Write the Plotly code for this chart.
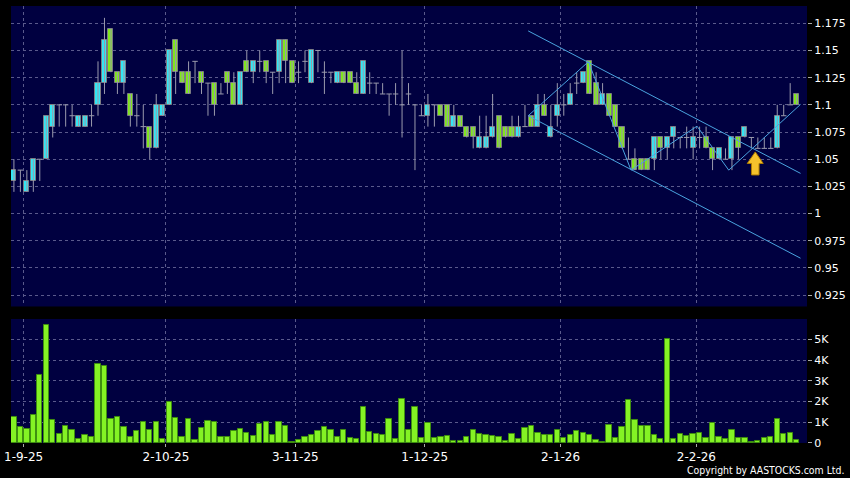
import plotly.graph_objects as go

# daily OHLC, one entry per trading day (28-8-25 .. end)
opens = [1.03, 1.04, 1.02, 1.03, 1.05, 1.05, 1.08, 1.10, 1.10, 1.09,
         1.08, 1.08, 1.09, 1.10, 1.12, 1.17, 1.13, 1.12, 1.11, 1.09,
         1.08, 1.08, 1.06, 1.09, 1.10, 1.16, 1.13, 1.13, 1.14, 1.13,
         1.12, 1.12, 1.11, 1.13, 1.12, 1.10, 1.14, 1.13, 1.14, 1.14,
         1.13, 1.13, 1.16, 1.14, 1.13, 1.14, 1.12, 1.15, 1.13, 1.13,
         1.12, 1.13, 1.13, 1.12, 1.11, 1.12, 1.12, 1.11, 1.11, 1.11,
         1.10, 1.11, 1.10, 1.09, 1.09, 1.10, 1.10, 1.10, 1.08, 1.09,
         1.08, 1.08, 1.06, 1.06, 1.07, 1.09, 1.08, 1.08, 1.07, 1.08,
         1.09, 1.08, 1.10, 1.07, 1.09, 1.10, 1.10, 1.12, 1.12, 1.14,
         1.12, 1.10, 1.11, 1.10, 1.08, 1.05, 1.05, 1.05, 1.05, 1.05,
         1.07, 1.06, 1.07, 1.07, 1.07, 1.06, 1.07, 1.07, 1.06, 1.05,
         1.05, 1.05, 1.07, 1.07, 1.07, 1.06, 1.06, 1.06, 1.06, 1.09,
         1.10, 1.11]
highs = [1.05, 1.04, 1.04, 1.05, 1.05, 1.09, 1.10, 1.10, 1.10, 1.10,
         1.09, 1.09, 1.10, 1.14, 1.18, 1.17, 1.13, 1.14, 1.11, 1.11,
         1.10, 1.08, 1.11, 1.10, 1.15, 1.16, 1.13, 1.14, 1.14, 1.13,
         1.12, 1.12, 1.12, 1.13, 1.13, 1.13, 1.15, 1.14, 1.15, 1.14,
         1.13, 1.16, 1.16, 1.14, 1.14, 1.15, 1.15, 1.15, 1.14, 1.13,
         1.13, 1.13, 1.13, 1.13, 1.14, 1.13, 1.12, 1.12, 1.11, 1.12,
         1.15, 1.12, 1.10, 1.10, 1.11, 1.10, 1.10, 1.10, 1.10, 1.09,
         1.08, 1.08, 1.09, 1.09, 1.11, 1.09, 1.08, 1.09, 1.09, 1.10,
         1.09, 1.11, 1.11, 1.10, 1.12, 1.11, 1.12, 1.13, 1.13, 1.14,
         1.13, 1.12, 1.11, 1.10, 1.08, 1.07, 1.06, 1.05, 1.05, 1.07,
         1.07, 1.07, 1.08, 1.07, 1.08, 1.08, 1.08, 1.08, 1.06, 1.06,
         1.06, 1.07, 1.07, 1.08, 1.07, 1.07, 1.07, 1.07, 1.10, 1.10,
         1.12, 1.11]
lows = [1.02, 1.02, 1.02, 1.02, 1.03, 1.05, 1.07, 1.08, 1.08, 1.08,
        1.08, 1.08, 1.08, 1.09, 1.11, 1.13, 1.11, 1.11, 1.08, 1.08,
        1.06, 1.05, 1.06, 1.09, 1.10, 1.11, 1.12, 1.11, 1.12, 1.11,
        1.09, 1.09, 1.11, 1.11, 1.10, 1.10, 1.13, 1.12, 1.13, 1.12,
        1.11, 1.12, 1.12, 1.12, 1.12, 1.13, 1.12, 1.13, 1.11, 1.12,
        1.12, 1.12, 1.12, 1.11, 1.11, 1.11, 1.11, 1.11, 1.09, 1.10,
        1.07, 1.10, 1.04, 1.09, 1.08, 1.08, 1.09, 1.08, 1.08, 1.08,
        1.07, 1.06, 1.06, 1.06, 1.07, 1.06, 1.07, 1.07, 1.07, 1.08,
        1.08, 1.08, 1.09, 1.07, 1.08, 1.09, 1.10, 1.11, 1.12, 1.11,
        1.10, 1.10, 1.09, 1.08, 1.06, 1.05, 1.04, 1.04, 1.04, 1.04,
        1.05, 1.05, 1.06, 1.06, 1.06, 1.05, 1.06, 1.06, 1.04, 1.05,
        1.05, 1.04, 1.05, 1.07, 1.06, 1.06, 1.06, 1.06, 1.06, 1.09,
        1.10, 1.10]
closes = [1.04, 1.04, 1.03, 1.05, 1.05, 1.09, 1.10, 1.10, 1.10, 1.09,
          1.09, 1.09, 1.09, 1.12, 1.16, 1.13, 1.12, 1.14, 1.09, 1.09,
          1.08, 1.06, 1.10, 1.10, 1.15, 1.13, 1.12, 1.11, 1.14, 1.12,
          1.12, 1.10, 1.11, 1.12, 1.10, 1.13, 1.13, 1.14, 1.14, 1.13,
          1.13, 1.16, 1.14, 1.12, 1.13, 1.14, 1.15, 1.15, 1.13, 1.13,
          1.13, 1.12, 1.12, 1.11, 1.14, 1.12, 1.12, 1.11, 1.11, 1.11,
          1.10, 1.11, 1.10, 1.09, 1.10, 1.10, 1.09, 1.08, 1.09, 1.08,
          1.07, 1.07, 1.07, 1.07, 1.08, 1.06, 1.07, 1.07, 1.08, 1.08,
          1.08, 1.10, 1.09, 1.08, 1.10, 1.10, 1.11, 1.12, 1.13, 1.11,
          1.10, 1.11, 1.09, 1.08, 1.06, 1.05, 1.04, 1.04, 1.04, 1.07,
          1.06, 1.07, 1.08, 1.07, 1.07, 1.07, 1.07, 1.06, 1.05, 1.06,
          1.05, 1.07, 1.06, 1.08, 1.07, 1.06, 1.06, 1.06, 1.09, 1.09,
          1.10, 1.10]
volumes = [1250, 770, 670, 1350, 3300, 5670, 1120, 450, 800, 640,
           210, 380, 300, 3810, 3690, 1150, 1270, 790, 300, 590,
           1030, 610, 1030, 190, 1990, 1200, 270, 1150, 160, 720,
           1070, 1010, 300, 300, 580, 690, 480, 340, 930, 990,
           400, 1030, 820, 30, 160, 270, 380, 590, 770, 640,
           300, 610, 240, 210, 1760, 510, 430, 370, 1150, 190,
           2130, 640, 1760, 240, 960, 220, 300, 320, 110, 100,
           290, 640, 450, 400, 320, 300, 110, 430, 180, 740,
           820, 500, 370, 370, 610, 240, 400, 560, 500, 370,
           130, 60, 870, 260, 790, 2070, 1120, 830, 820, 400,
           210, 5000, 190, 430, 320, 450, 500, 240, 960, 300,
           180, 610, 220, 260, 50, 80, 220, 300, 1170, 420,
           500, 140]

# first trading day of each month (index into the series) and its label
date_labels = ["1-9-25", "2-10-25", "3-11-25", "1-12-25", "2-1-26", "2-2-26"]
date_index = [2, 24, 44, 64, 85, 106]

price_ticks = [0.925, 0.95, 0.975, 1.0, 1.025, 1.05, 1.075, 1.1, 1.125, 1.15, 1.175]
price_labels = ["0.925", "0.95", "0.975", "1", "1.025", "1.05", "1.075", "1.1", "1.125", "1.15", "1.175"]
vol_ticks = [0, 1000, 2000, 3000, 4000, 5000]
vol_labels = ["0", "1K", "2K", "3K", "4K", "5K"]

# hand-drawn channel and zigzag (day index, price)
channel_top_x = [79.5, 121.6]
channel_top_y = [1.168, 1.037]
channel_low_x = [79.5, 121.6]
channel_low_y = [1.090, 0.959]
zigzag_x = [79.5, 88.8, 95.4, 105.6, 110.5, 121.6]
zigzag_y = [1.090, 1.1396, 1.040, 1.0804, 1.040, 1.1004]
arrow_at = (114.6, 1.0567)

BG = "#000000"
PANEL = "#000040"
GRID = "#5a5a8c"
UP = "#33e6f4"
DOWN = "#80e61e"
EDGE = "#7c7c84"
WICK = "#9a9aac"
TREND = "#4aa3df"
FONT = dict(family="DejaVu Sans", color="#ffffff", size=11)

days = list(range(len(opens)))
grid_x = [d - 0.5 for d in date_index]

fig = go.Figure()

# wicks
wx, wy = [], []
for d, h, l in zip(days, highs, lows):
    wx += [d, d, None]
    wy += [l, h, None]
fig.add_trace(go.Scatter(x=wx, y=wy, mode="lines", line=dict(color=WICK, width=1),
                         hoverinfo="skip"))

# bodies
up = [d for d in days if closes[d] > opens[d]]
dn = [d for d in days if closes[d] < opens[d]]
flat = [d for d in days if closes[d] == opens[d]]
fig.add_trace(go.Bar(x=up, y=[closes[d] - opens[d] for d in up], base=[opens[d] for d in up],
                     width=0.78, marker=dict(color=UP, line=dict(color=EDGE, width=1))))
fig.add_trace(go.Bar(x=dn, y=[opens[d] - closes[d] for d in dn], base=[closes[d] for d in dn],
                     width=0.78, marker=dict(color=DOWN, line=dict(color=EDGE, width=1))))
fx, fy = [], []
for d in flat:
    fx += [d - 0.42, d + 0.42, None]
    fy += [closes[d], closes[d], None]
fig.add_trace(go.Scatter(x=fx, y=fy, mode="lines", line=dict(color=WICK, width=1),
                         hoverinfo="skip"))

# trend lines
for tx, ty in [(channel_top_x, channel_top_y), (channel_low_x, channel_low_y), (zigzag_x, zigzag_y)]:
    fig.add_trace(go.Scatter(x=tx, y=ty, mode="lines", line=dict(color=TREND, width=1),
                             hoverinfo="skip"))

# volume
fig.add_trace(go.Bar(x=days, y=volumes, width=0.82, xaxis="x2", yaxis="y2",
                     marker=dict(color="#84f224", line=dict(color="#3f8f10", width=1))))

# yellow arrow, pixel sized, tip at arrow_at
fig.add_shape(type="path", xref="x", yref="y", xsizemode="pixel", ysizemode="pixel",
              xanchor=arrow_at[0], yanchor=arrow_at[1],
              path="M 0 0 L 8 -11.5 L 3.8 -11.5 L 3.8 -23 L -3.8 -23 L -3.8 -11.5 L -8 -11.5 Z",
              fillcolor="#f5c22c", line=dict(color="#b07d00", width=1), layer="above")

fig.add_annotation(text="Copyright by AASTOCKS.com Ltd.", xref="paper", yref="paper",
                   x=1.049, y=-0.0618, xanchor="right", yanchor="middle", showarrow=False,
                   font=dict(family="DejaVu Sans Condensed", color="#ffffff", size=10.4))

xcommon = dict(range=[-0.45, 122.6], tickvals=grid_x, showgrid=True, gridcolor=GRID,
               griddash="3px,3px", gridwidth=1, zeroline=False, showline=False)
ycommon = dict(side="right", showgrid=True, gridcolor=GRID, griddash="3px,3px", gridwidth=1,
               zeroline=False, showline=False, ticks="outside", ticklen=4, tickcolor="#aaaaaa",
               tickfont=FONT)

fig.update_layout(
    width=850, height=478,
    margin=dict(l=4, r=42, t=6, b=35),
    paper_bgcolor=BG, plot_bgcolor=PANEL,
    barmode="overlay", bargap=0, showlegend=False,
    xaxis=dict(**xcommon, domain=[0, 1], anchor="y", showticklabels=False),
    yaxis=dict(**ycommon, domain=[0.3124, 1], range=[0.9146, 1.1909],
               tickvals=price_ticks, ticktext=price_labels),
    xaxis2=dict(**xcommon, domain=[0, 1], anchor="y2", matches="x", ticktext=date_labels,
                ticks="outside", ticklen=3, tickcolor="#aaaaaa", ticklabeloverflow="allow",
                tickfont=dict(family="DejaVu Sans", color="#ffffff", size=12)),
    yaxis2=dict(**ycommon, domain=[0, 0.2838], range=[0, 5980],
                tickvals=vol_ticks, ticktext=vol_labels),
)

# page body margin would shift the chart by 8px
fig.write_html("out.html", config={"displayModeBar": False},
               post_script="document.body.style.margin='0';")
